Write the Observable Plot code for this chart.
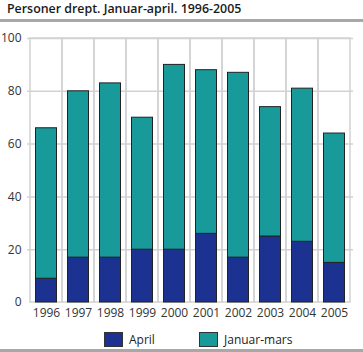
<!DOCTYPE html>
<html><head><meta charset="utf-8">
<script src="https://cdn.jsdelivr.net/npm/d3@7"></script>
<script src="https://cdn.jsdelivr.net/npm/@observablehq/plot@0.6"></script>
<style>
body{margin:0;background:#fff;font-family:"Open Sans",sans-serif;}
#wrap{position:relative;width:363px;height:352px;overflow:hidden;}
#title{position:absolute;left:7px;top:0px;font-size:12.4px;font-weight:600;color:#1a1a1a;white-space:nowrap;}
.hr{position:absolute;left:0;width:363px;height:3px;background:#a8a8a8;}
#chart{position:absolute;left:0;top:24px;}
.lg{position:absolute;top:331px;display:flex;align-items:center;font-size:12px;color:#222;}
.sw{width:17px;height:13px;border:1px solid #333;margin-right:6px;}
</style></head>
<body><div id="wrap">
<div id="title">Personer drept. Januar-april. 1996-2005</div>
<div class="hr" style="top:19px"></div>
<div id="chart"></div>
<div class="lg" style="left:104px"><div class="sw" id="sw0"></div><span id="lt0"></span></div>
<div class="lg" style="left:199px"><div class="sw" id="sw1"></div><span id="lt1"></span></div>
<div class="hr" style="top:349px"></div>
</div>
<script>
const years = ["1996","1997","1998","1999","2000","2001","2002","2003","2004","2005"];
const april = [9,17,17,20,20,26,17,25,23,15];
const januarMars = [57,63,66,50,70,62,70,49,58,49];
const seriesNames = ["April","Januar-mars"];
const seriesColors = ["#1b3290","#189a9a"];
const yTicks = [0,20,40,60,80,100];

const data = [];
years.forEach((y,i)=>{
  data.push({year:y, series:seriesNames[0], value:april[i]});
  data.push({year:y, series:seriesNames[1], value:januarMars[i]});
});

const chart = Plot.plot({
  width:363, height:296,
  marginTop:14, marginBottom:18, marginLeft:27, marginRight:10,
  style:{fontFamily:"'Open Sans',sans-serif", fontSize:"12px", color:"#333", background:"#fff"},
  x:{domain:years, padding:0, label:null, tickSize:0, tickPadding:6},
  y:{domain:[0,100], ticks:yTicks, label:null, tickSize:0, tickPadding:6},
  color:{domain:seriesNames, range:seriesColors},
  marks:[
    Plot.ruleY(yTicks.filter(d=>d>0), {stroke:"#d2d2d2", strokeWidth:1.5}),
    Plot.barY(years, {x:d=>d, y1:0, y2:100, fill:"none", stroke:"#d2d2d2", strokeWidth:1.5}),
    Plot.barY(data, {x:"year", y:"value", fill:"series", stroke:"#222", strokeWidth:1, insetLeft:5.5, insetRight:5.5, order:seriesNames})
  ]
});
document.getElementById("chart").appendChild(chart);
seriesNames.forEach((n,i)=>{
  document.getElementById("sw"+i).style.background = seriesColors[i];
  document.getElementById("lt"+i).textContent = n;
});
</script>
</body></html>
